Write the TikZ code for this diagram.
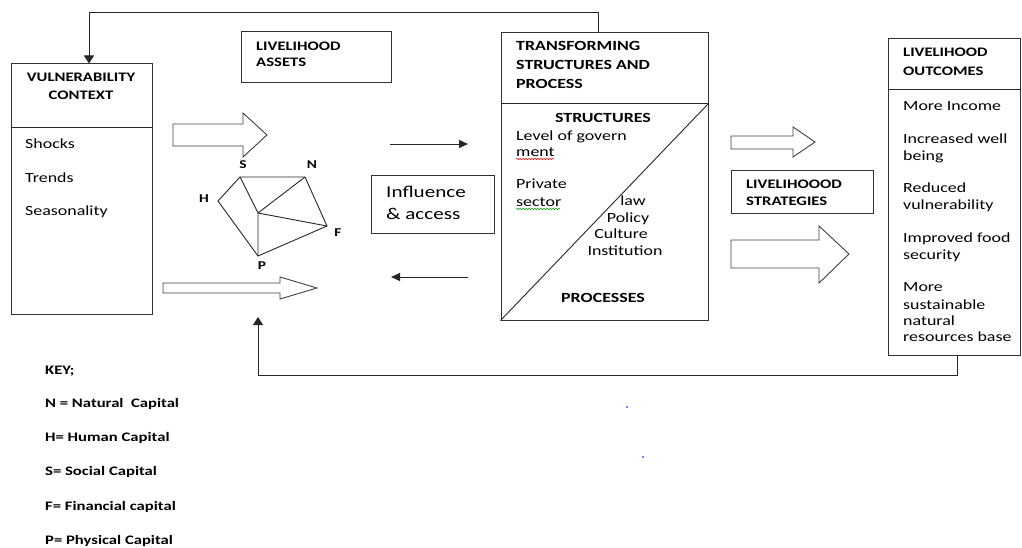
\documentclass[tikz,border=0pt]{standalone}
\usepackage{fontspec}
\setmainfont{Carlito}[FakeStretch=1.28]
\usetikzlibrary{arrows.meta,decorations.pathmorphing}
\tikzset{
  box/.style={draw=black!80, line width=1pt, inner sep=0pt},
  body/.style={font=\fontsize{14}{17}\selectfont, inner sep=0pt},
  head/.style={font=\bfseries\fontsize{13}{16}\selectfont, inner sep=0pt},
  bighead/.style={font=\bfseries\fontsize{14}{17}\selectfont, inner sep=0pt},
  vlabel/.style={font=\bfseries\fontsize{12}{14}\selectfont, inner sep=0pt},
  line/.style={draw=black!85, line width=0.9pt},
  arr/.style={line, -{Triangle[length=9pt,width=8pt]}},
  fbarr/.style={line, -{Triangle[length=8pt,width=10pt]}},
  fat/.style={draw=black!75, line width=0.9pt, fill=white},
  wavy/.style={line width=0.5pt, decorate, decoration={snake, amplitude=0.8pt, segment length=3pt}},
}

\begin{document}
\begin{tikzpicture}[x=1pt,y=-1pt]
\useasboundingbox (0,0) rectangle (1022,548);

% boxes
\node[box, minimum width=141pt, minimum height=250pt] (vuln) at (81.5,189) {};
\node[box, minimum width=150pt, minimum height=51pt] (assets) at (316,57.5) {};
\node[box, minimum width=123pt, minimum height=57pt] (infl) at (432.5,204.5) {};
\node[box, minimum width=207pt, minimum height=287pt] (trans) at (604.5,176.5) {};
\node[box, minimum width=142pt, minimum height=42pt] (strat) at (802,192) {};
\node[box, minimum width=132pt, minimum height=316pt] (outc) at (954,197) {};

\draw[line] ([yshift=-64]vuln.north west) -- ([yshift=-64]vuln.north east);
\draw[line] ([yshift=-71]trans.north west) -- ([yshift=-71]trans.north east);
\draw[line] (trans.south west) -- ([yshift=-71]trans.north east);
\draw[line] ([yshift=-51]outc.north west) -- ([yshift=-51]outc.north east);

% vulnerability context
\node[head, anchor=base] (vt1) at (81,82) {VULNERABILITY};
\node[head, anchor=base] (vt2) at (81,100) {CONTEXT};
\foreach \t/\y [count=\i] in {Shocks/148.5, Trends/182.5, Seasonality/215.5}
  \node[body, anchor=base west] (vc\i) at (25,\y) {\t};

% livelihood assets
\node[head, anchor=base west] (at1) at (256,51) {LIVELIHOOD};
\node[head, anchor=base west] (at2) at (256,67) {ASSETS};

% pentagon
\coordinate (S) at (240,177);
\coordinate (N) at (305,177);
\coordinate (F) at (327,226);
\coordinate (P) at (258,256);
\coordinate (H) at (218,201);
\coordinate (C) at (258,213);
\draw[line] (S) -- (N) -- (F) -- (P) -- (H) -- cycle;
\draw[line] (S) -- (C) -- (N) (F) -- (C) -- (P);
\node[vlabel] (lS) at (243,165) {S};
\node[vlabel] (lN) at (312,165) {N};
\node[vlabel] (lH) at (204,199) {H};
\node[vlabel] (lF) at (338,233) {F};
\node[vlabel] (lP) at (262,266) {P};

% block arrows
\draw[fat] (173,124) -- (243,124) -- (243,113) -- (267,135) -- (243,157) -- (243,146) -- (173,146) -- cycle;
\draw[fat] (163,283) -- (280,283) -- (280,277) -- (317,288) -- (280,299) -- (280,293) -- (163,293) -- cycle;
\draw[fat] (731,136) -- (793,136) -- (793,127) -- (815,142) -- (793,157) -- (793,149) -- (731,149) -- cycle;
\draw[fat] (731,240) -- (819,240) -- (819,226) -- (849,254) -- (819,283) -- (819,268) -- (731,268) -- cycle;

% influence and access
\node[body, font=\fontsize{16.5}{19}\selectfont, anchor=base west] (if1) at (386,197.5) {Influence};
\node[body, font=\fontsize{16.5}{19}\selectfont, anchor=base west] (if2) at (386,219.5) {\& access};
\coordinate (toT) at (468,144);
\coordinate (frA) at (390,144);
\coordinate (frT) at (468,277);
\coordinate (toA) at (391,277);
\draw[arr] (frA) -- (toT);
\draw[arr] (frT) -- (toA);

% transforming structures and process
\foreach \t/\y [count=\i] in {TRANSFORMING/50.5, STRUCTURES AND/69.5, PROCESS/88.5}
  \node[bighead, anchor=base west] (tt\i) at (516,\y) {\t};
\node[bighead, anchor=base] (struc) at (603,122.5) {STRUCTURES};
\node[bighead, anchor=base] (proc) at (603,302.5) {PROCESSES};
\foreach \t/\y [count=\i] in {Level of govern/140.5, ment/156.5, Private/188.5, sector/206.5}
  \node[body, anchor=base west] (st\i) at (516,\y) {\t};
\foreach \t/\x/\y [count=\i] in {law/633/205.5, Policy/628/222.5, Culture/621/238.5, Institution/625/255.5}
  \node[body, anchor=base] (pr\i) at (\x,\y) {\t};
\draw[wavy, red] (516,159) -- (554,159);
\draw[wavy, green!60!black] (516,209) -- (560,209);

% strategies
\node[head, anchor=base west] (sg1) at (746,189) {LIVELIHOOOD};
\node[head, anchor=base west] (sg2) at (746,205) {STRATEGIES};

% outcomes
\node[head, anchor=base west] (ot1) at (903,57) {LIVELIHOOD};
\node[head, anchor=base west] (ot2) at (903,76) {OUTCOMES};
\foreach \t/\y [count=\i] in {More Income/110.5, Increased well/143.5, being/160.5,
    Reduced/192.5, vulnerability/209.5, Improved food/242.5, security/259.5,
    More/291.5, sustainable/309.5, natural/325.5, resources base/341.5}
  \node[body, anchor=base west] (oc\i) at (903,\y) {\t};

% feedback loops
\coordinate (fbT) at (598,12);
\draw[fbarr] ([xshift=-6.5]trans.north) -- (fbT) -| ([xshift=7.5]vuln.north);
\coordinate (fbB) at (957,375);
\coordinate (assin) at (258,317);
\draw[fbarr] ([xshift=3]outc.south) -- (fbB) -| (assin);

% key
\foreach \t/\y [count=\i] in {KEY;/374, N = Natural\ \ Capital/407, H= Human Capital/441,
    S= Social Capital/475, F= Financial capital/510, P= Physical Capital/544}
  \node[head, anchor=base west] (key\i) at (45,\y) {\t};

\fill[blue!70] (627,407) circle (1.2);
\fill[blue!70] (643,457) circle (1.2);
\end{tikzpicture}
\end{document}
